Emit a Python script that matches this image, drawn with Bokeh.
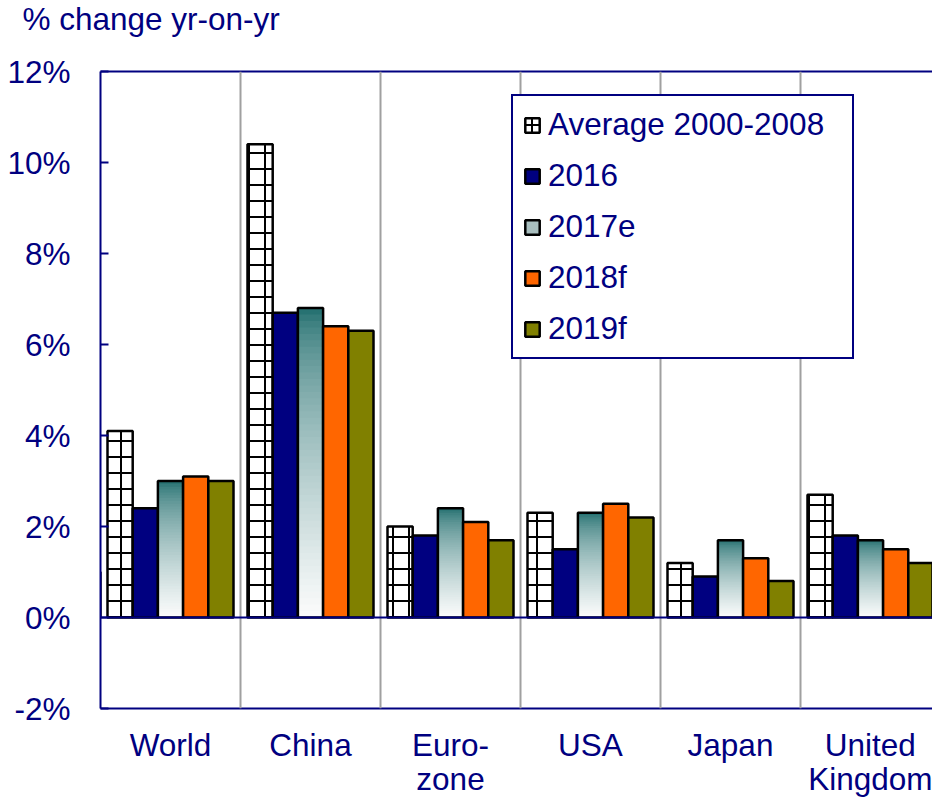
from bokeh.plotting import figure
from bokeh.models import (Range1d, FixedTicker, LinearAxis, Legend, LegendItem,
                          Span, ColumnDataSource)
from bokeh.embed import file_html
from bokeh.resources import INLINE

# GDP growth, % change year on year
regions = ["World", "China", "Euro-\nzone", "USA", "Japan", "United\nKingdom"]
avg_2000_2008 = [4.1, 10.4, 2.0, 2.3, 1.2, 2.7]
g2016 = [2.4, 6.7, 1.8, 1.5, 0.9, 1.8]
g2017e = [3.0, 6.8, 2.4, 2.3, 1.7, 1.7]
g2018f = [3.1, 6.4, 2.1, 2.5, 1.3, 1.5]
g2019f = [3.0, 6.3, 1.7, 2.2, 0.8, 1.2]
series_names = ["Average 2000-2008", "2016", "2017e", "2018f", "2019f"]
y_ticks = [-2, 0, 2, 4, 6, 8, 10, 12]

NAVY = "#000080"
FONT = "Liberation Sans"
FS = "31.5px"
LW = 2.5

n = len(regions)
centers = [i + 0.5 for i in range(n)]
offsets = [-0.36, -0.18, 0.0, 0.18, 0.36]
bar_w = 0.18
y_lo, y_hi = min(y_ticks), max(y_ticks)

p = figure(width=932, height=799, x_range=Range1d(0, 832 / 140), y_range=Range1d(y_lo, y_hi),
           output_backend="svg", toolbar_location=None,
           min_border_left=100, min_border_right=0, min_border_top=70, min_border_bottom=89)
p.xgrid.visible = False
p.ygrid.visible = False
p.outline_line_color = None
p.background_fill_color = "white"
p.border_fill_color = "white"

# title, kept near the top edge of the canvas
p.title.text = "% change yr-on-yr\n "
p.title.text_font = FONT
p.title.text_font_size = FS
p.title.text_font_style = "normal"
p.title.text_color = NAVY
p.title.text_line_height = 0.92
p.title.align = "left"
p.title.vertical_align = "top"
p.title.offset = -78
p.title.standoff = 0

# group separators
for b in range(1, n):
    p.add_layout(Span(location=b, dimension="height", line_color="#a0a0a0", line_width=2))

def xs(k):
    return [c + offsets[k] for c in centers]

# average 2000-2008: white bars with a black grid
r_avg = p.vbar(x=xs(0), top=avg_2000_2008, width=bar_w, fill_color="white",
               line_color="black", line_width=LW, hatch_pattern="+", hatch_color="black",
               hatch_weight=2, hatch_scale=16)
r_16 = p.vbar(x=xs(1), top=g2016, width=bar_w, fill_color=NAVY, line_color="black", line_width=LW)

# 2017e: teal-to-white vertical gradient, built from nested bands
top_rgb = (24, 104, 104)
bottom_rgb = (252, 252, 252)
N = 48
gx, gtop, gcol = [], [], []
for k in range(N, 0, -1):
    s = 1 - (k - 0.5) / N
    f = s ** 0.6
    rgb = tuple(int(round(a + (b - a) * f)) for a, b in zip(top_rgb, bottom_rgb))
    col = "#%02x%02x%02x" % rgb
    for x, v in zip(xs(2), g2017e):
        gx.append(x)
        gtop.append(v * k / N)
        gcol.append(col)
p.vbar(x="x", top="top", width=bar_w, fill_color="c", line_color=None,
       source=ColumnDataSource(dict(x=gx, top=gtop, c=gcol)))
p.vbar(x=xs(2), top=g2017e, width=bar_w, fill_color=None, line_color="black", line_width=LW)
# swatch for the legend only (lies outside the visible range)
r_17 = p.vbar(x=[-10], top=[1], width=bar_w, fill_color="#a9bfbf", line_color="black", line_width=LW)

r_18 = p.vbar(x=xs(3), top=g2018f, width=bar_w, fill_color="#ff6600", line_color="black", line_width=LW)
r_19 = p.vbar(x=xs(4), top=g2019f, width=bar_w, fill_color="#808000", line_color="black", line_width=LW)

# zero line
p.add_layout(Span(location=0, dimension="width", line_color=NAVY, line_width=2))

# y axis
ya = p.yaxis[0]
ya.ticker = FixedTicker(ticks=y_ticks)
ya.major_label_overrides = {t: f"{t}%" for t in y_ticks}
ya.major_tick_in = 8
ya.major_tick_out = 0
ya.minor_tick_line_color = None
ya.axis_line_color = NAVY
ya.axis_line_width = 2
ya.major_tick_line_color = NAVY
ya.major_tick_line_width = 2
ya.major_label_text_font = FONT
ya.major_label_text_font_size = FS
ya.major_label_text_color = NAVY
ya.major_label_standoff = 30

# x axis with region names
xa = p.xaxis[0]
xa.ticker = FixedTicker(ticks=centers)
xa.major_label_overrides = {c: r for c, r in zip(centers, regions)}
xa.major_tick_in = 0
xa.major_tick_out = 0
xa.minor_tick_line_color = None
xa.axis_line_color = NAVY
xa.axis_line_width = 2
xa.major_label_text_font = FONT
xa.major_label_text_font_size = FS
xa.major_label_text_color = NAVY
xa.major_label_text_line_height = 0.95
xa.major_label_standoff = 18

# top border line
top_axis = LinearAxis(ticker=FixedTicker(ticks=[]), axis_line_color=NAVY, axis_line_width=2,
                      major_tick_line_color=None, minor_tick_line_color=None,
                      major_label_text_font_size="0px")
p.add_layout(top_axis, "above")

legend = Legend(items=[LegendItem(label=series_names[0], renderers=[r_avg]),
                       LegendItem(label=series_names[1], renderers=[r_16]),
                       LegendItem(label=series_names[2], renderers=[r_17]),
                       LegendItem(label=series_names[3], renderers=[r_18]),
                       LegendItem(label=series_names[4], renderers=[r_19])],
                location=(411, 349), border_line_color=NAVY, border_line_width=2,
                border_line_alpha=1.0,
                padding=10, spacing=14, glyph_width=18, glyph_height=18, label_standoff=7,
                label_height=18, label_width=294, margin=0, label_text_font=FONT,
                label_text_font_size=FS, label_text_color=NAVY,
                background_fill_color="white", background_fill_alpha=1)
p.add_layout(legend)

open("out.html", "w").write(file_html(p, INLINE))
